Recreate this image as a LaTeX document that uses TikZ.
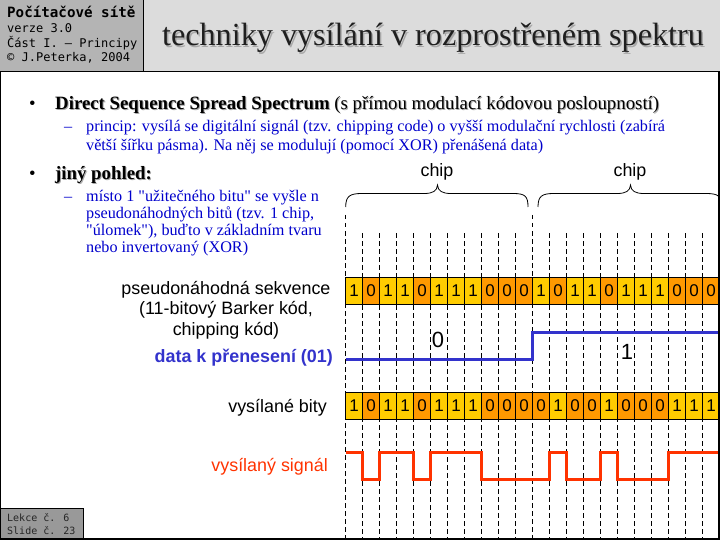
\documentclass[tikz,border=0pt]{standalone}
\usepackage{fontspec}
\setmainfont{Liberation Serif}[Ligatures=TeXOff]
\newfontfamily\arialf{Liberation Sans}
\newfontfamily\monof{DejaVu Sans Mono}
\definecolor{hdrgray}{HTML}{B4B4B4}
\definecolor{titlegray}{HTML}{DCDCDC}
\definecolor{footgray}{HTML}{999999}
\definecolor{navy}{HTML}{0000CC}
\definecolor{datablue}{HTML}{3333CC}
\definecolor{sigred}{HTML}{FF3300}
\definecolor{oneyel}{HTML}{FFCC00}
\definecolor{zeroor}{HTML}{FF9900}
\definecolor{shadowgray}{HTML}{A8A8A8}
\tikzset{
  mono/.style={font=\monof\fontsize{12}{14}\selectfont, anchor=west, inner sep=0pt},
  serif18/.style={font=\fontsize{18.8}{22}\selectfont, anchor=base west, inner sep=0pt},
  serif14/.style={font=\fontsize{16.2}{19}\selectfont, anchor=base west, inner sep=0pt, text=navy},
  lbl/.style={font=\arialf\fontsize{17.9}{20}\selectfont, inner sep=0pt},
  cellbox/.style={draw=black, line width=0.8pt, minimum width=17pt, minimum height=26.7pt, inner sep=0pt, font=\arialf\fontsize{17}{18}\selectfont},
  c1/.style={fill=oneyel},
  c0/.style={fill=zeroor},
  gridline/.style={draw=black, line width=0.8pt, dash pattern=on 4.5pt off 3.5pt},
  wave/.style={line width=3pt, line join=miter},
  bracepath/.style={draw=black, line width=0.8pt}
}
\begin{document}
\begin{tikzpicture}[x=1pt,y=-1pt]
\useasboundingbox (0,0) rectangle (720,540);
\fill[white] (0,0) rectangle (720,540);
% header
\fill[hdrgray] (0,0) rectangle (143.5,71.5);
\fill[titlegray] (143.5,0) rectangle (720,71.5);
\draw[black, line width=1pt] (143.5,0) -- (143.5,71.5);
\node[mono, font=\monof\bfseries\fontsize{14.2}{16}\selectfont] (h1) at (7,12) {Počítačové sítě};
\node[mono] (h2) at (7,28) {verze 3.0};
\node[mono] (h3) at (7,43) {Část I. – Principy};
\node[mono] (h4) at (7,58) {© J.Peterka, 2004};
\node[font=\fontsize{32.2}{36}\selectfont, text=shadowgray, inner sep=0pt] at (434.5,39.5) {techniky vysílání v rozprostřeném spektru};
\node[font=\fontsize{32.2}{36}\selectfont, text=black!88, inner sep=0pt] (title) at (433,38) {techniky vysílání v rozprostřeném spektru};
% frame
\draw[black, line width=1pt] (0,72) -- (720,72);
\draw[black, line width=1pt] (0.5,72) -- (0.5,540);
% bullets
\node[serif18] (b1) at (29,109.5) {•};
\node[serif18, text=shadowgray] at (56,110.5) {\textbf{Direct Sequence Spread Spectrum} (s přímou modulací kódovou posloupností)};
\node[serif18] (t1) at (55,109.5) {\textbf{Direct Sequence Spread Spectrum} (s přímou modulací kódovou posloupností)};
\node[serif14] (d1) at (64,131.5) {–};
\node[serif14] (t1a) at (86,131.5) {princip: vysílá se digitální signál (tzv. chipping code) o vyšší modulační rychlosti (zabírá};
\node[serif14] (t1b) at (86,150.5) {větší šířku pásma). Na něj se modulují (pomocí XOR) přenášená data)};
\node[serif18] (b2) at (29,179.5) {•};
\node[serif18, text=shadowgray] at (56,180.5) {\textbf{jiný pohled:}};
\node[serif18] (t2) at (55,179.5) {\textbf{jiný pohled:}};
\node[serif14] (d2) at (64,201.5) {–};
\node[serif14] (t2a) at (86,201.5) {místo 1 "užitečného bitu" se vyšle n};
\node[serif14] (t2b) at (86,218.5) {pseudonáhodných bitů (tzv. 1 chip,};
\node[serif14] (t2c) at (86,235.5) {"úlomek"), buďto v základním tvaru};
\node[serif14] (t2d) at (86,252.5) {nebo invertovaný (XOR)};
% diagram labels
\node[lbl, align=center, font=\arialf\fontsize{17.9}{20.5}\selectfont] (pnlabel) at (226,310) {pseudonáhodná sekvence\\(11-bitový Barker kód,\\chipping kód)};
\node[lbl, anchor=east, text=datablue, font=\arialf\bfseries\fontsize{17.9}{20}\selectfont] (datalabel) at (333,358) {data k přenesení (01)};
\node[lbl, anchor=east] (txlabel) at (327,408) {vysílané bity};
\node[lbl, anchor=east, text=sigred] (siglabel) at (328,467) {vysílaný signál};
\begin{scope}
\clip (0,72) rectangle (718,538);
% grid lines
\foreach \i in {0,...,22} {
  \pgfmathsetmacro{\xx}{345.7+17*\i}
  \pgfmathtruncatemacro{\m}{mod(\i,11)}
  \ifnum\m=0
    \draw[gridline] (\xx,215) -- (\xx,540);
  \else
    \draw[gridline] (\xx,233) -- (\xx,540);
  \fi
}
% braces
\draw[bracepath] (345.7,207) .. controls (345.7,196) and (350,193.5) .. (362,193.5) -- (424,193.5) .. controls (433,193.5) and (437,191) .. (437.5,185) .. controls (438,191) and (442,193.5) .. (451,193.5) -- (513,193.5) .. controls (525,193.5) and (528,196) .. (528,207);
\draw[bracepath] (538,207) .. controls (538,196) and (542,193.5) .. (554,193.5) -- (617,193.5) .. controls (626,193.5) and (630,191) .. (630.5,185) .. controls (631,191) and (635,193.5) .. (644,193.5) -- (706,193.5) .. controls (718,193.5) and (722,196) .. (722,207);
\node[lbl] (chip1) at (437,172) {chip};
\node[lbl] (chip2) at (630,172) {chip};
% pseudorandom sequence
\foreach \b [count=\i from 0] in {1,0,1,1,0,1,1,1,0,0,0,1,0,1,1,0,1,1,1,0,0,0} {
  \node[cellbox, c\b] (p\i) at (354.2+17*\i, 290.7) {\b};
}
% transmitted bits
\foreach \b [count=\i from 0] in {1,0,1,1,0,1,1,1,0,0,0,0,1,0,0,1,0,0,0,1,1,1} {
  \node[cellbox, c\b] (t\i) at (354.2+17*\i, 405.8) {\b};
}
% data signal
\draw[wave, datablue] (345.7,359) -- (532.7,359) -- (532.7,332) -- (722,332);
\node[lbl, font=\arialf\fontsize{22}{24}\selectfont] (zero) at (438,340) {0};
\node[lbl, font=\arialf\fontsize{22}{24}\selectfont] (one) at (627,352) {1};
% transmitted signal
\draw[wave, sigred] (345.7,452) -- (362.7,452) -- (362.7,479) -- (379.7,479) -- (379.7,452) -- (413.7,452) -- (413.7,479) -- (430.7,479) -- (430.7,452) -- (481.7,452) -- (481.7,479) -- (549.7,479) -- (549.7,452) -- (566.7,452) -- (566.7,479) -- (600.7,479) -- (600.7,452) -- (617.7,452) -- (617.7,479) -- (668.7,479) -- (668.7,452) -- (722,452);
\end{scope}
% right and bottom frame
\fill[black] (718,72) rectangle (720,540);
\fill[black] (0,538) rectangle (720,540);
% footer
\filldraw[fill=footgray, draw=black, line width=1pt] (0,508) rectangle (83,538.5);
\node[mono, font=\monof\fontsize{10}{12}\selectfont, text=black!85] (f1) at (7,518) {Lekce č. 6};
\node[mono, font=\monof\fontsize{10}{12}\selectfont, text=black!85] (f2) at (7,530.5) {Slide č. 23};
\end{tikzpicture}
\end{document}
